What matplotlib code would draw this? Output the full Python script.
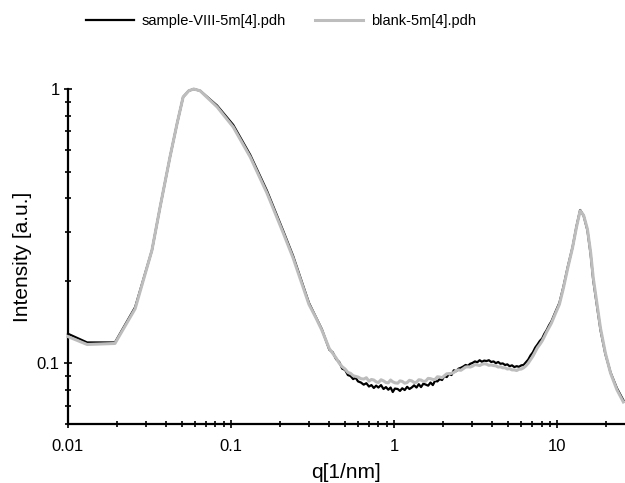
import matplotlib
matplotlib.use("Agg")
import matplotlib.pyplot as plt
from matplotlib.ticker import LogLocator, FixedLocator, NullFormatter, FuncFormatter

plt.rcParams["font.family"] = ["Liberation Sans", "DejaVu Sans"]

# scattering vector, same grid for both files
q = [0.0100, 0.0131, 0.0194, 0.0258, 0.0327, 0.0367, 0.0422, 0.0467, 0.0508,
     0.0550, 0.0590, 0.0646, 0.0821, 0.103, 0.131, 0.166, 0.209, 0.240,
     0.270, 0.300, 0.330, 0.360,
     0.400, 0.420, 0.440, 0.460, 0.480, 0.500, 0.520, 0.540, 0.560, 0.580,
     0.600, 0.625, 0.650, 0.675, 0.700, 0.725, 0.750, 0.775, 0.800, 0.830,
     0.860, 0.890, 0.920, 0.950, 0.980, 1.010, 1.050, 1.085, 1.120, 1.160,
     1.200, 1.240, 1.280, 1.325, 1.370, 1.415, 1.460, 1.510, 1.560, 1.615,
     1.670, 1.725, 1.780, 1.840, 1.900, 1.965, 2.030, 2.100, 2.170, 2.245,
     2.320, 2.400, 2.480, 2.565, 2.650, 2.740, 2.830, 2.925, 3.020, 3.125,
     3.230, 3.340, 3.450, 3.565, 3.680, 3.805, 3.930, 4.065, 4.200, 4.340,
     4.480, 4.630, 4.780, 4.940, 5.100, 5.275, 5.450, 5.635, 5.820, 6.015,
     6.210, 6.420, 6.630, 6.855, 7.080, 7.320, 7.560, 7.810, 8.070, 8.330,
     8.600, 8.900, 9.200, 9.700, 10.3,
     10.9, 11.6, 12.4, 13.1, 13.8, 14.5, 15.3, 16.0, 16.6, 17.5, 18.4,
     19.7, 21.2, 23.2, 25.4]

# sample-VIII-5m[4].pdh
I_sample = [0.128, 0.119, 0.119, 0.160, 0.258, 0.371, 0.565, 0.751, 0.935,
            0.985, 1.000, 0.985, 0.870, 0.740, 0.575, 0.425, 0.303, 0.246,
            0.200, 0.166, 0.148, 0.133,
            0.1120, 0.1095, 0.1035, 0.1010, 0.0955, 0.0945, 0.0905, 0.0898, 0.0875, 0.0885,
            0.0858, 0.0850, 0.0835, 0.0845, 0.0822, 0.0832, 0.0812, 0.0828, 0.0815, 0.0832,
            0.0805, 0.0818, 0.0800, 0.0815, 0.0785, 0.0808, 0.0805, 0.0792, 0.0810, 0.0798,
            0.0820, 0.0805, 0.0815, 0.0830, 0.0815, 0.0838, 0.0818, 0.0842, 0.0835, 0.0828,
            0.0850, 0.0832, 0.0862, 0.0858, 0.0875, 0.0868, 0.0898, 0.0890, 0.0915, 0.0905,
            0.0942, 0.0935, 0.0955, 0.0962, 0.0972, 0.0985, 0.0978, 0.0995, 0.1002, 0.1015,
            0.1008, 0.1025, 0.1012, 0.1022, 0.1018, 0.1025, 0.1010, 0.1015, 0.1000, 0.1010,
            0.0995, 0.0998, 0.0985, 0.0990, 0.0975, 0.0982, 0.0968, 0.0975, 0.0970, 0.0982,
            0.0985, 0.1008, 0.1030, 0.1068, 0.1095, 0.1140, 0.1170, 0.1205, 0.1230, 0.1280,
            0.1320, 0.1375, 0.1420, 0.1530, 0.1660,
            0.1900, 0.2250, 0.2650, 0.3150, 0.3620, 0.3450, 0.3050, 0.2500, 0.2010, 0.1620, 0.1320,
            0.1080, 0.0925, 0.0810, 0.0733]

# blank-5m[4].pdh
I_blank = [0.125, 0.117, 0.118, 0.158, 0.258, 0.371, 0.565, 0.751, 0.935,
           0.985, 1.000, 0.985, 0.860, 0.727, 0.565, 0.417, 0.298, 0.242,
           0.197, 0.164, 0.147, 0.132,
           0.1130, 0.1085, 0.1045, 0.1000, 0.0970, 0.0952, 0.0925, 0.0918, 0.0900, 0.0895,
           0.0890, 0.0878, 0.0875, 0.0885, 0.0860, 0.0872, 0.0868, 0.0855, 0.0850, 0.0870,
           0.0862, 0.0850, 0.0848, 0.0868, 0.0855, 0.0848, 0.0845, 0.0862, 0.0858, 0.0845,
           0.0850, 0.0866, 0.0862, 0.0850, 0.0852, 0.0870, 0.0868, 0.0858, 0.0860, 0.0880,
           0.0878, 0.0872, 0.0872, 0.0892, 0.0890, 0.0885, 0.0900, 0.0915, 0.0915, 0.0918,
           0.0925, 0.0940, 0.0945, 0.0942, 0.0955, 0.0968, 0.0970, 0.0968, 0.0975, 0.0988,
           0.0985, 0.0980, 0.0990, 0.0995, 0.0992, 0.0982, 0.0985, 0.0980, 0.0978, 0.0968,
           0.0970, 0.0962, 0.0962, 0.0952, 0.0955, 0.0945, 0.0945, 0.0940, 0.0950, 0.0952,
           0.0962, 0.0978, 0.1000, 0.1030, 0.1060, 0.1100, 0.1140, 0.1170, 0.1205, 0.1250,
           0.1300, 0.1350, 0.1400, 0.1510, 0.1640,
           0.1880, 0.2230, 0.2640, 0.3130, 0.3600, 0.3460, 0.3080, 0.2540, 0.2050, 0.1650, 0.1340,
           0.1090, 0.0920, 0.0800, 0.0722]

fig = plt.figure(figsize=(6.25, 4.83), dpi=100)
ax = fig.add_axes([68 / 625, 1 - 424 / 483, 1 - 68 / 625, (424 - 89) / 483])

ax.plot(q, I_sample, color="black", lw=1.6, label="sample-VIII-5m[4].pdh", zorder=3, clip_on=False)
ax.plot(q, I_blank, color="#bdbdbd", lw=2.2, label="blank-5m[4].pdh", zorder=4, clip_on=False)

ax.set_xscale("log")
ax.set_yscale("log")
ax.set_xlim(0.01, 26)
ax.set_ylim(0.06, 1.0)

for s in ("top", "right"):
    ax.spines[s].set_visible(False)
for s in ("left", "bottom"):
    ax.spines[s].set_linewidth(1.6)

ax.xaxis.set_major_locator(FixedLocator([0.01, 0.1, 1, 10]))
ax.yaxis.set_major_locator(FixedLocator([0.1, 1]))
ax.xaxis.set_minor_locator(LogLocator(base=10, subs=range(2, 10)))
ax.yaxis.set_minor_locator(LogLocator(base=10, subs=range(2, 10)))
fmt = FuncFormatter(lambda v, p: f"{v:g}")
ax.xaxis.set_major_formatter(fmt)
ax.yaxis.set_major_formatter(fmt)
ax.xaxis.set_minor_formatter(NullFormatter())
ax.yaxis.set_minor_formatter(NullFormatter())
ax.tick_params(which="both", direction="inout", width=1.2, colors="black", labelsize=12)
ax.tick_params(which="major", length=6)
ax.tick_params(which="minor", length=4)
ax.tick_params(axis="x", pad=8)
ax.tick_params(axis="y", pad=3)

ax.set_xlabel("q[1/nm]", fontsize=15, labelpad=6)
ax.set_ylabel("Intensity [a.u.]", fontsize=15, labelpad=3)

fig.legend(loc="center", bbox_to_anchor=(281 / 625, 1 - 21 / 483), ncol=2,
           frameon=False, fontsize=10.5, handlelength=3.3, handletextpad=0.55,
           columnspacing=2.0)

fig.savefig("out.png", dpi=100)
